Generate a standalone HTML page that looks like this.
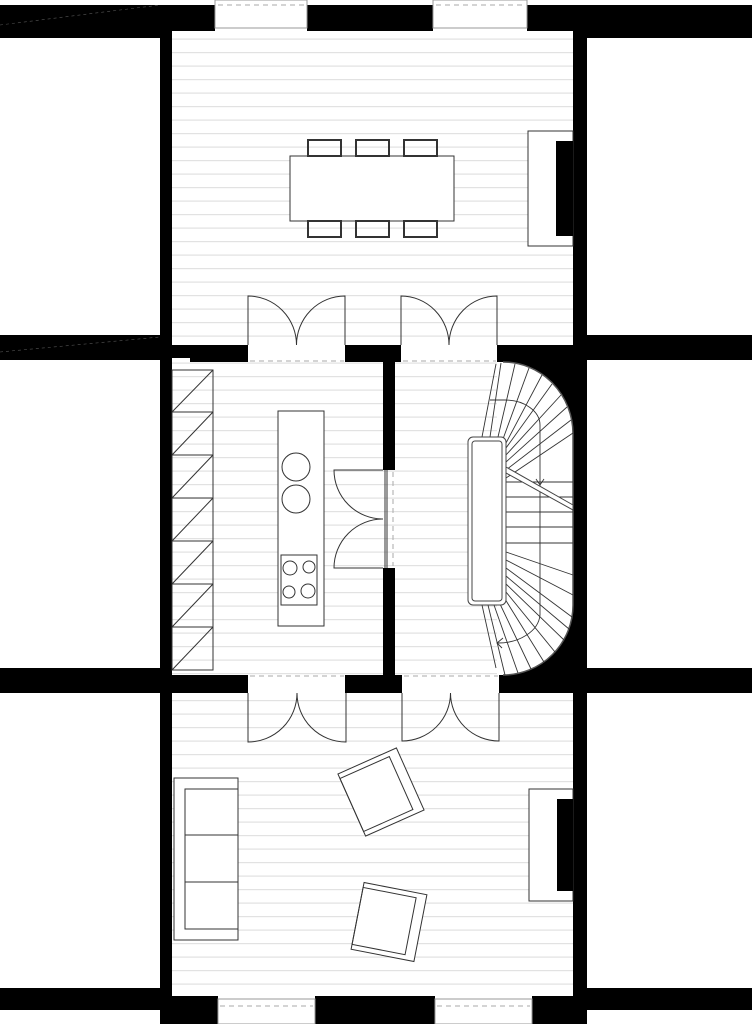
<!DOCTYPE html>
<html><head><meta charset="utf-8"><style>
html,body{margin:0;padding:0;background:#fff;}
svg{display:block;}
</style></head><body>
<svg width="752" height="1024" viewBox="0 0 752 1024" xmlns="http://www.w3.org/2000/svg">
<defs>
<pattern id="fl" x="0" y="0" width="10" height="13.5" patternUnits="userSpaceOnUse">
<rect width="10" height="13.5" fill="#fff"/>
<rect y="11.5" width="10" height="1.2" fill="#e2e2e2"/>
</pattern>
</defs>
<rect width="752" height="1024" fill="#fff"/>
<rect x="172" y="31" width="401" height="314" fill="url(#fl)"/>
<rect x="172" y="362" width="401" height="313" fill="url(#fl)"/>
<rect x="172" y="693" width="401" height="303" fill="url(#fl)"/>

<g fill="#000">
<rect x="0" y="5" width="160" height="33"/>
<rect x="587" y="5" width="165" height="33"/>
<rect x="0" y="335" width="160" height="25"/>
<rect x="587" y="335" width="165" height="25"/>
<rect x="0" y="668" width="160" height="25"/>
<rect x="587" y="668" width="165" height="25"/>
<rect x="0" y="988" width="160" height="22"/>
<rect x="587" y="988" width="165" height="22"/>
<rect x="160" y="5" width="12" height="1019"/>
<rect x="573" y="5" width="14" height="1019"/>
<rect x="160" y="5" width="55" height="26"/>
<rect x="307" y="5" width="126" height="26"/>
<rect x="527" y="5" width="60" height="26"/>
<rect x="160" y="996" width="58" height="28"/>
<rect x="315" y="996" width="120" height="28"/>
<rect x="532" y="996" width="55" height="28"/>
<rect x="172" y="345" width="76" height="13"/>
<rect x="190" y="345" width="58" height="17"/>
<rect x="345" y="345" width="56" height="17"/>
<rect x="497" y="345" width="76" height="17"/>
<rect x="172" y="675" width="76" height="18"/>
<rect x="345" y="675" width="57" height="18"/>
<rect x="499" y="675" width="74" height="18"/>
<rect x="383" y="362" width="12" height="108"/>
<rect x="383" y="568" width="12" height="107"/>
<rect x="500" y="362" width="73" height="313"/>
</g>

<g stroke="#999" stroke-width="1" fill="#fff">
<rect x="215" y="0" width="92" height="28"/>
<rect x="433" y="0" width="94" height="28"/>
<rect x="218" y="999" width="97" height="25"/>
<rect x="435" y="999" width="97" height="25"/>
</g>
<g stroke="#aaa" stroke-width="1" stroke-dasharray="5,4">
<line x1="218" y1="5" x2="305" y2="5"/>
<line x1="436" y1="5" x2="525" y2="5"/>
<line x1="220" y1="1006" x2="313" y2="1006"/>
<line x1="437" y1="1006" x2="530" y2="1006"/>
<line x1="250" y1="361" x2="344" y2="361"/>
<line x1="403" y1="361" x2="496" y2="361"/>
<line x1="250" y1="676" x2="344" y2="676"/>
<line x1="404" y1="676" x2="498" y2="676"/>
<line x1="393" y1="472" x2="393" y2="566"/>
</g>
<line x1="0" y1="25" x2="160" y2="5" stroke="#555" stroke-width="0.6" stroke-dasharray="3,3"/>
<line x1="0" y1="352" x2="160" y2="337" stroke="#555" stroke-width="0.6" stroke-dasharray="3,3"/>

<g fill="none" stroke="#333" stroke-width="1">
<rect x="290" y="156" width="164" height="65" fill="#fff"/>
<rect x="308" y="140" width="33" height="16" stroke-width="2"/>
<rect x="356" y="140" width="33" height="16" stroke-width="2"/>
<rect x="404" y="140" width="33" height="16" stroke-width="2"/>
<rect x="308" y="221" width="33" height="16" stroke-width="2"/>
<rect x="356" y="221" width="33" height="16" stroke-width="2"/>
<rect x="404" y="221" width="33" height="16" stroke-width="2"/>
<rect x="528" y="131" width="45" height="115" fill="#fff"/>
<rect x="529" y="789" width="44" height="112" fill="#fff"/>
</g>
<rect x="556" y="141" width="17" height="95" fill="#000"/>
<rect x="557" y="799" width="16" height="92" fill="#000"/>

<g fill="none" stroke="#333" stroke-width="1">
<path d="M248,345 L248,296 A48.5,49 0 0 1 296.5,345"/>
<path d="M345,345 L345,296 A48.5,49 0 0 0 296.5,345"/>
<path d="M401,345 L401,296 A48,49 0 0 1 449,345"/>
<path d="M497,345 L497,296 A48,49 0 0 0 449,345"/>
<path d="M248,693 L248,742 A49,49 0 0 0 297,693"/>
<path d="M346,693 L346,742 A49,49 0 0 1 297,693"/>
<path d="M402,693 L402,741 A48.5,48 0 0 0 450.5,693"/>
<path d="M499,693 L499,741 A48.5,48 0 0 1 450.5,693"/>
<path d="M383,470 L334,470 A49,49 0 0 0 383,519"/>
<path d="M383,568 L334,568 A49,49 0 0 1 383,519"/>
<line x1="385" y1="470" x2="385" y2="568"/>
<line x1="387" y1="470" x2="387" y2="568"/>
<rect x="172" y="370" width="41" height="300"/>
<line x1="172" y1="412" x2="213" y2="370"/>
<line x1="172" y1="455" x2="213" y2="412"/>
<line x1="172" y1="498" x2="213" y2="455"/>
<line x1="172" y1="541" x2="213" y2="498"/>
<line x1="172" y1="584" x2="213" y2="541"/>
<line x1="172" y1="627" x2="213" y2="584"/>
<line x1="172" y1="670" x2="213" y2="627"/>
<line x1="172" y1="412" x2="213" y2="412"/>
<line x1="172" y1="455" x2="213" y2="455"/>
<line x1="172" y1="498" x2="213" y2="498"/>
<line x1="172" y1="541" x2="213" y2="541"/>
<line x1="172" y1="584" x2="213" y2="584"/>
<line x1="172" y1="627" x2="213" y2="627"/>
<rect x="278" y="411" width="46" height="215" fill="#fff"/>
<circle cx="296" cy="467" r="14"/>
<circle cx="296" cy="499" r="14"/>
<rect x="281" y="555" width="36" height="50"/>
<circle cx="290" cy="568" r="7"/>
<circle cx="309" cy="567" r="6"/>
<circle cx="289" cy="592" r="6"/>
<circle cx="308" cy="591" r="7"/>
<rect x="174" y="778" width="64" height="162" fill="#fff"/>
<rect x="185" y="789" width="53" height="140"/>
<line x1="185" y1="835" x2="238" y2="835"/>
<line x1="185" y1="882" x2="238" y2="882"/>
<g transform="rotate(-24 381 792)">
<rect x="349" y="758" width="64" height="68" fill="#fff"/>
<rect x="349" y="763" width="54" height="58"/>
</g>
<g transform="rotate(11 389 922)">
<rect x="357" y="888" width="64" height="68" fill="#fff"/>
<rect x="357" y="893" width="54" height="58"/>
</g>
</g>

<path d="M497,362 L503,362 A70,72 0 0 1 573,434 L573,605 A70,70 0 0 1 503,675 L497,675 Z" fill="#fff"/>
<path d="M503,362 A70,72 0 0 1 573,434 L573,605 A70,70 0 0 1 503,675" fill="none" stroke="#555" stroke-width="1.5"/>
<g stroke="#333" stroke-width="0.9" fill="none">
<line x1="482" y1="437" x2="496" y2="364"/>
<line x1="490" y1="437" x2="501" y2="363"/>
<line x1="498" y1="437" x2="515" y2="364"/>
<line x1="503" y1="439" x2="529" y2="368"/>
<line x1="506" y1="443" x2="542" y2="375"/>
<line x1="506" y1="448" x2="552" y2="384"/>
<line x1="506" y1="455" x2="561" y2="395"/>
<line x1="506" y1="462" x2="567" y2="407"/>
<line x1="506" y1="470" x2="571" y2="420"/>
<line x1="506" y1="478" x2="573" y2="433"/>
<line x1="506" y1="482" x2="573" y2="482"/>
<line x1="506" y1="497" x2="573" y2="497"/>
<line x1="506" y1="512" x2="573" y2="512"/>
<line x1="506" y1="527" x2="573" y2="527"/>
<line x1="506" y1="543" x2="573" y2="543"/>
<line x1="506" y1="552" x2="573" y2="575"/>
<line x1="506" y1="560" x2="573" y2="595"/>
<line x1="506" y1="568" x2="572" y2="617"/>
<line x1="506" y1="576" x2="569" y2="629"/>
<line x1="506" y1="584" x2="564" y2="640"/>
<line x1="506" y1="592" x2="555" y2="652"/>
<line x1="505" y1="599" x2="544" y2="662"/>
<line x1="500" y1="604" x2="531" y2="669"/>
<line x1="494" y1="605" x2="518" y2="673"/>
<line x1="488" y1="605" x2="505" y2="675"/>
<line x1="482" y1="605" x2="496" y2="668"/>
<path d="M490,400 L505,400 A35,25 0 0 1 540,425 L540,615 A42,30 0 0 1 497,643"/>
<path d="M503,638 L497,643 L502,648"/>
<path d="M536,479 L540,485 L544,479"/>
</g>
<rect x="468" y="437" width="38" height="168" rx="5" fill="#fff" stroke="#444" stroke-width="1"/>
<rect x="472" y="441" width="30" height="160" rx="3" fill="none" stroke="#444" stroke-width="1"/>
<path d="M506,467 L573,505 L573,510 L506,473 Z" fill="#fff" stroke="#444" stroke-width="1"/>
</svg>
</body></html>
